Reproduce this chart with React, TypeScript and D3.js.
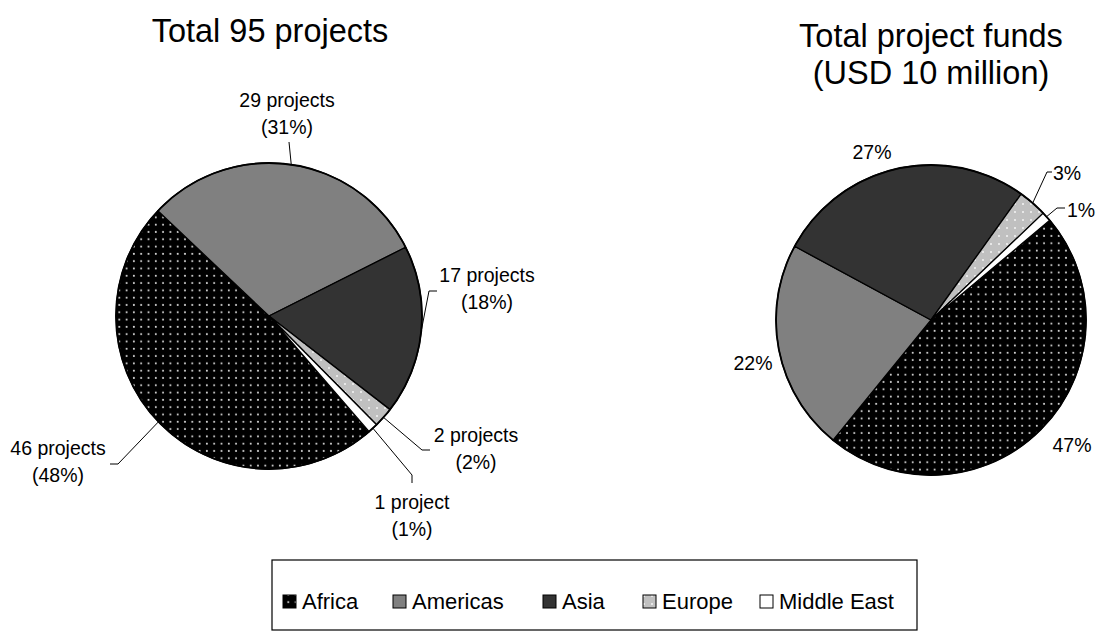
import React, { useEffect, useRef } from 'react';
import * as d3 from 'd3';

const regions = ['Africa', 'Americas', 'Asia', 'Europe', 'Middle East'];
const projectCounts = [46, 29, 17, 2, 1];
const projectNames = ['46 projects', '29 projects', '17 projects', '2 projects', '1 project'];
const fundShares = [47, 22, 27, 3, 1];

const fills = ['url(#dotsAfrica)', '#808080', '#333333', 'url(#dotsEurope)', '#ffffff'];

const W = 1105;
const H = 637;
const deg = Math.PI / 180;

type LabelSpot = {
  x: number;
  y: number;
  anchor: string;
  leader?: [number, number][];
};

// label placement for the left pie (projects)
const leftSpots: LabelSpot[] = [
  { x: 58, y: 455, anchor: 'middle', leader: [[118, 464], [110, 464]] },
  { x: 287, y: 107, anchor: 'middle', leader: [[289, 142]] },
  { x: 487, y: 282, anchor: 'middle', leader: [[429, 291], [437, 291]] },
  { x: 476, y: 442, anchor: 'middle', leader: [[422, 450], [430, 450]] },
  { x: 412, y: 509, anchor: 'middle', leader: [[412, 475], [412, 483]] },
];

// label placement for the right pie (funds)
const rightSpots: LabelSpot[] = [
  { x: 1072, y: 452, anchor: 'middle' },
  { x: 753, y: 370, anchor: 'middle' },
  { x: 872, y: 159, anchor: 'middle' },
  { x: 1053, y: 180, anchor: 'start', leader: [[1047, 172], [1052, 172]] },
  { x: 1067, y: 217, anchor: 'start', leader: [[1057, 208], [1065, 208]] },
];

const font = 'Liberation Sans, Arial, sans-serif';

const drawPie = (
  g: d3.Selection<SVGGElement, unknown, null, undefined>,
  values: number[],
  cx: number,
  cy: number,
  r: number,
  start: number,
  labels: string[][],
  spots: LabelSpot[],
) => {
  const pie = d3
    .pie<number>()
    .sort(null)
    .value((d) => d)
    .startAngle(start)
    .endAngle(start + 2 * Math.PI);
  const arcs = pie(values);
  const arc = d3.arc<d3.PieArcDatum<number>>().innerRadius(0).outerRadius(r);

  const pg = g.append('g').attr('transform', `translate(${cx},${cy})`);
  pg.selectAll('path.slice')
    .data(arcs)
    .enter()
    .append('path')
    .attr('class', 'slice')
    .attr('d', arc)
    .attr('fill', (_d, i) => fills[i])
    .attr('stroke', '#000')
    .attr('stroke-width', 1.3)
    .attr('stroke-linejoin', 'round');
  pg.append('circle')
    .attr('r', r)
    .attr('fill', 'none')
    .attr('stroke', '#000')
    .attr('stroke-width', 1.8);

  const line = d3.line();
  arcs.forEach((a, i) => {
    const spot = spots[i];
    if (spot.leader) {
      const mid = (a.startAngle + a.endAngle) / 2;
      const p0: [number, number] = [cx + r * Math.sin(mid), cy - r * Math.cos(mid)];
      g.append('path')
        .attr('d', line([p0, ...spot.leader]))
        .attr('fill', 'none')
        .attr('stroke', '#000')
        .attr('stroke-width', 1);
    }
    const t = g
      .append('text')
      .attr('x', spot.x)
      .attr('y', spot.y)
      .attr('text-anchor', spot.anchor)
      .attr('font-family', font)
      .attr('font-size', 19.5)
      .attr('fill', '#000');
    labels[i].forEach((txt, j) => {
      t.append('tspan')
        .attr('x', spot.x)
        .attr('dy', j === 0 ? 0 : 26.5)
        .text(txt);
    });
  });
};

export default function App() {
  const ref = useRef<SVGSVGElement>(null);

  useEffect(() => {
    if (!ref.current) return;
    const svg = d3.select(ref.current);
    svg.selectAll('*').remove();

    const defs = svg.append('defs');
    const pa = defs
      .append('pattern')
      .attr('id', 'dotsAfrica')
      .attr('patternUnits', 'userSpaceOnUse')
      .attr('width', 7.3)
      .attr('height', 7.3);
    pa.append('rect').attr('width', 7.3).attr('height', 7.3).attr('fill', '#000');
    pa.append('circle').attr('cx', 3.6).attr('cy', 3.6).attr('r', 1).attr('fill', '#d8d8d8');
    const pe = defs
      .append('pattern')
      .attr('id', 'dotsEurope')
      .attr('patternUnits', 'userSpaceOnUse')
      .attr('width', 8)
      .attr('height', 8);
    pe.append('rect').attr('width', 8).attr('height', 8).attr('fill', '#c0c0c0');
    pe.append('circle').attr('cx', 4).attr('cy', 4).attr('r', 1).attr('fill', '#f4f4f4');

    const g = svg.append('g') as d3.Selection<SVGGElement, unknown, null, undefined>;

    // titles
    g.append('text')
      .attr('x', 270)
      .attr('y', 42)
      .attr('text-anchor', 'middle')
      .attr('font-family', font)
      .attr('font-size', 32.5)
      .text('Total 95 projects');
    const t2 = g
      .append('text')
      .attr('x', 931)
      .attr('y', 47)
      .attr('text-anchor', 'middle')
      .attr('font-family', font)
      .attr('font-size', 32.5);
    t2.append('tspan').attr('x', 931).text('Total project funds');
    t2.append('tspan').attr('x', 931).attr('dy', 37).text('(USD 10 million)');

    const total = d3.sum(projectCounts);
    const leftLabels = projectCounts.map((v, i) => [
      projectNames[i],
      `(${Math.round((v / total) * 100)}%)`,
    ]);
    drawPie(g, projectCounts, 269, 316, 153, 139.1 * deg, leftLabels, leftSpots);

    const rightLabels = fundShares.map((v) => [`${v}%`]);
    drawPie(g, fundShares, 931, 320, 155, 50 * deg, rightLabels, rightSpots);

    // legend
    const lx = 272;
    const ly = 560;
    const lw = 645;
    const lh = 70;
    g.append('rect')
      .attr('x', lx)
      .attr('y', ly)
      .attr('width', lw)
      .attr('height', lh)
      .attr('fill', '#fff')
      .attr('stroke', '#000')
      .attr('stroke-width', 1.2);
    const itemX = d3.scaleOrdinal<string, number>().domain(regions).range([283, 393, 543, 643, 760]);
    regions.forEach((name, i) => {
      const x = itemX(name);
      g.append('rect')
        .attr('x', x)
        .attr('y', ly + 35)
        .attr('width', 13)
        .attr('height', 13)
        .attr('fill', fills[i])
        .attr('stroke', '#000')
        .attr('stroke-width', 1);
      g.append('text')
        .attr('x', x + 19)
        .attr('y', ly + 49)
        .attr('font-family', font)
        .attr('font-size', 22)
        .text(name);
    });
  }, []);

  return (
    <svg
      ref={ref}
      width={W}
      height={H}
      style={{ position: 'absolute', left: 0, top: 0, background: '#fff' }}
    />
  );
}
